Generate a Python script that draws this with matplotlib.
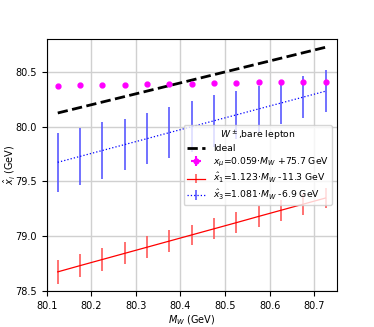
import matplotlib
matplotlib.use("Agg")
import matplotlib.pyplot as plt
import numpy as np

# masses de W generadas
m_w = [80.125, 80.175, 80.225, 80.275, 80.325, 80.375, 80.425,
       80.475, 80.525, 80.575, 80.625, 80.675, 80.725]

# x_mu (puntos magenta)
x_mu = [80.375, 80.377, 80.380, 80.383, 80.386, 80.392, 80.393,
        80.398, 80.400, 80.404, 80.405, 80.409, 80.411]
x_mu_err = [0.004] * 13
m_w_err = [0.002] * 13

# x1 (rojo)
x1 = [78.675, 78.732, 78.788, 78.844, 78.900, 78.956, 79.012,
      79.068, 79.124, 79.181, 79.237, 79.293, 79.349]
x1_err = [0.11, 0.105, 0.105, 0.10, 0.10, 0.097, 0.095,
          0.097, 0.097, 0.098, 0.094, 0.095, 0.095]

# x3 (azul)
x3 = [79.675, 79.729, 79.783, 79.837, 79.891, 79.946, 80.000,
      80.054, 80.108, 80.162, 80.216, 80.270, 80.324]
x3_err = [0.268, 0.26, 0.26, 0.235, 0.23, 0.235, 0.23,
          0.235, 0.22, 0.21, 0.19, 0.195, 0.19]

lab_mu = r'$x_{\mu}$=0.059$\cdot M_W$ +75.7 GeV'
lab_1 = r'$\hat{x}_1$=1.123$\cdot M_W$ -11.3 GeV'
lab_3 = r'$\hat{x}_3$=1.081$\cdot M_W$ -6.9 GeV'

plt.rc('font', size=7)
fig = plt.figure(figsize=(3.74, 3.27), dpi=100)
ax = fig.add_axes([0.1246, 0.110, 0.7757, 0.7706])

ax.plot(m_w, m_w, color='black', ls='--', lw=2, label='Ideal')
ax.errorbar(m_w, x_mu, yerr=x_mu_err, xerr=m_w_err, fmt='o',
            color='magenta', ms=3.5, label=lab_mu)
ax.errorbar(m_w, x1, yerr=x1_err, fmt='-', color='red', lw=0.9,
            ecolor=(1, 0.35, 0.35), elinewidth=1.2, label=lab_1)
ax.errorbar(m_w, x3, yerr=x3_err, fmt=':', color='blue', lw=0.9,
            ecolor=(0.35, 0.35, 1), elinewidth=1.2, label=lab_3)

ax.set_xlim(80.1, 80.75)
ax.set_ylim(78.5, 80.8)
ax.set_xticks(np.arange(80.1, 80.71, 0.1))
ax.set_yticks(np.arange(78.5, 80.51, 0.5))
ax.grid(True, color='#d0d0d0', lw=1)
ax.set_axisbelow(True)
ax.set_xlabel(r'$M_W$ (GeV)', labelpad=2)
ax.set_ylabel(r'$\hat{x}_i$ (GeV)', labelpad=-1)
ax.legend(loc='center right', title=r'$W^\pm$,bare lepton',
          fontsize=6.7, title_fontsize=6.7, labelspacing=0.25,
          borderpad=0.35)

fig.savefig('out.png', dpi=100)
